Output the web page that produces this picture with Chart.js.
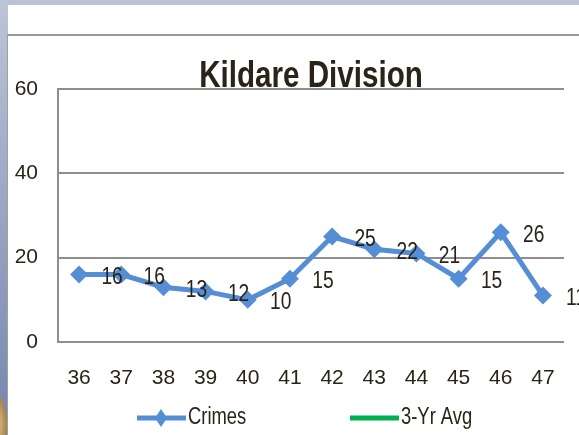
<!DOCTYPE html>
<html>
<head>
<meta charset="utf-8">
<script src="https://cdn.jsdelivr.net/npm/chart.js@4.4.1/dist/chart.umd.min.js"></script>
<style>
  html, body { margin: 0; padding: 0; }
  body { width: 579px; height: 435px; position: relative; overflow: hidden; background: #b9c2d6; }
  #frame {
    position: absolute; left: 0; top: 0; width: 8px; height: 435px;
    background: linear-gradient(#bcc4d8, #7585ad);
  }
  #page {
    position: absolute; left: 8px; top: 5px; right: 0; bottom: 0;
    background: #fff;
  }
  #rule {
    position: absolute; left: 8px; top: 34px; right: 0; height: 0;
    border-top: 2px solid #9a9a9a;
  }
  #side {
    position: absolute; left: 7px; top: 34px; width: 0; bottom: 0;
    border-left: 1px solid #a0a0a0;
  }
  #seal {
    position: absolute; left: -14px; top: 395px; width: 21px; height: 60px;
    border-radius: 50%; background: radial-gradient(#e2c890, #8a6530);
  }
  #wrap { position: absolute; left: 0; top: 0; width: 579px; height: 435px; }
</style>
</head>
<body>
<div id="frame"></div>
<div id="page"></div>
<div id="rule"></div>
<div id="side"></div>
<div id="seal"></div>
<div id="wrap"><canvas id="myChart" width="579" height="435"></canvas></div>
<script>
const categories = ["36", "37", "38", "39", "40", "41", "42", "43", "44", "45", "46", "47"];
const crimes = [16, 16, 13, 12, 10, 15, 25, 22, 21, 15, 26, 11];
const threeYrAvg = [];
const yTicks = [0, 20, 40, 60];

const FONT = "'Liberation Sans', Arial, sans-serif";
const TEXT = "#2a2418";
const SQUEEZE = 0.8; // original text is a narrow face, squash ours to match

function narrowText(ctx, text, x, y) {
  ctx.save();
  ctx.translate(x, y);
  ctx.scale(SQUEEZE, 1);
  ctx.fillText(text, 0, 0);
  ctx.restore();
}

// title, value labels and legend drawn on top
const extras = {
  id: "extras",
  afterDraw(chart) {
    const ctx = chart.ctx;
    const area = chart.chartArea;
    ctx.save();
    ctx.fillStyle = TEXT;

    // title
    ctx.font = "bold 37px " + FONT;
    ctx.textAlign = "center";
    ctx.textBaseline = "alphabetic";
    narrowText(ctx, "Kildare Division", (area.left + area.right) / 2, 87);

    // value labels, right of each point
    ctx.font = "24px " + FONT;
    ctx.textBaseline = "middle";
    const meta = chart.getDatasetMeta(0);
    meta.data.forEach((pt, i) => {
      narrowText(ctx, String(chart.data.datasets[0].data[i]), pt.x + 33, pt.y + 3);
    });

    // legend
    const items = [
      { ds: chart.data.datasets[0], x: 137, diamond: true },
      { ds: chart.data.datasets[1], x: 350, diamond: false }
    ];
    const ly = 418;
    ctx.font = "23px " + FONT;
    ctx.textAlign = "left";
    items.forEach(it => {
      ctx.strokeStyle = it.ds.borderColor;
      ctx.lineWidth = 5;
      ctx.beginPath();
      ctx.moveTo(it.x, ly);
      ctx.lineTo(it.x + 49, ly);
      ctx.stroke();
      if (it.diamond) {
        const cx = it.x + 24;
        ctx.fillStyle = it.ds.borderColor;
        ctx.beginPath();
        ctx.moveTo(cx, ly - 9);
        ctx.lineTo(cx + 6, ly);
        ctx.lineTo(cx, ly + 9);
        ctx.lineTo(cx - 6, ly);
        ctx.closePath();
        ctx.fill();
      }
      ctx.fillStyle = TEXT;
      narrowText(ctx, it.ds.label, it.x + 51, ly);
    });
    ctx.restore();
  }
};

const chart = new Chart(document.getElementById("myChart").getContext("2d"), {
  type: "line",
  data: {
    labels: categories,
    datasets: [
      {
        label: "Crimes",
        data: crimes,
        borderColor: "#558ed5",
        backgroundColor: "#558ed5",
        borderWidth: 5,
        pointStyle: "rectRot",
        pointRadius: 9,
        pointBorderWidth: 0,
        tension: 0
      },
      {
        label: "3-Yr Avg",
        data: threeYrAvg,
        borderColor: "#00b050",
        backgroundColor: "#00b050",
        borderWidth: 5,
        pointRadius: 0
      }
    ]
  },
  options: {
    responsive: false,
    animation: false,
    layout: { padding: { top: 89, right: 9, left: 0, bottom: 0 } },
    plugins: {
      legend: { display: false },
      title: { display: false },
      tooltip: { enabled: false }
    },
    scales: {
      x: {
        offset: true,
        grid: { display: false, drawTicks: false },
        border: { display: false },
        afterFit(scale) { scale.height = 93; },
        ticks: {
          padding: 24,
          maxRotation: 0,
          autoSkip: false,
          color: TEXT,
          font: { family: FONT, size: 21 }
        }
      },
      y: {
        min: 0,
        max: 60,
        afterFit(scale) { scale.width = 58; },
        afterBuildTicks(scale) { scale.ticks = yTicks.map(v => ({ value: v })); },
        grid: { color: "#8e8e8e", lineWidth: 2, drawTicks: false },
        border: { display: true, color: "#8e8e8e", width: 2 },
        ticks: {
          padding: 20,
          color: TEXT,
          font: { family: FONT, size: 21 }
        }
      }
    }
  },
  plugins: [extras]
});
</script>
</body>
</html>
